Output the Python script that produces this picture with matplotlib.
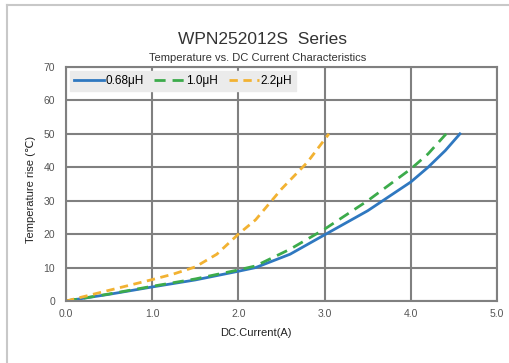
import matplotlib.pyplot as plt
from matplotlib.lines import Line2D

plt.rcParams["font.family"] = ["Liberation Sans", "DejaVu Sans"]

# values
cur_068 = [0, 0.5, 1.0, 1.5, 2.0, 2.2, 2.6, 3.0, 3.5, 4.0, 4.2, 4.4, 4.57]
rise_068 = [0, 2.0, 4.2, 6.3, 8.9, 10.0, 14.0, 19.8, 27.0, 35.6, 40.0, 45.0, 50.0]

cur_10 = [0, 0.5, 1.0, 1.5, 2.0, 2.2, 2.6, 3.0, 3.5, 4.0, 4.2, 4.41]
rise_10 = [0, 2.1, 4.4, 6.6, 9.3, 10.5, 15.5, 21.5, 30.0, 39.5, 44.0, 50.0]

cur_22 = [0, 0.5, 1.0, 1.25, 1.5, 1.75, 2.0, 2.2, 2.5, 2.8, 3.05]
rise_22 = [0, 3.2, 6.4, 8.1, 10.2, 14.0, 20.0, 24.3, 33.5, 41.5, 50.0]

x_ticks = [0, 1, 2, 3, 4, 5]
x_labels = ["0.0", "1.0", "2.0", "3.0", "4.0", "5.0"]
y_ticks = [0, 10, 20, 30, 40, 50, 60, 70]

fig = plt.figure(figsize=(5.10, 3.63), dpi=100)
fig.patch.set_facecolor("white")

# outer frame (left and top edges visible)
fy = 1 - 5 / 363
fx = 7 / 510
fig.add_artist(Line2D([fx, fx], [-0.01, fy], transform=fig.transFigure, color="#c8c8c8", lw=1.5))
fig.add_artist(Line2D([fx, 1.01], [fy, fy], transform=fig.transFigure, color="#c8c8c8", lw=1.5))

ax = fig.add_axes([66 / 510, 1 - 301 / 363, 431 / 510, 234 / 363])

ax.plot(cur_068, rise_068, color="#2f78c0", lw=2, label="0.68\u03bcH")
ax.plot(cur_10, rise_10, color="#3cab4b", lw=2, dashes=(4, 2.5), label="1.0\u03bcH")
ax.plot(cur_22, rise_22, color="#f2b232", lw=2, dashes=(3, 2), label="2.2\u03bcH")

ax.set_xlim(0, 5)
ax.set_ylim(0, 70)
ax.set_xticks(x_ticks)
ax.set_xticklabels(x_labels)
ax.set_yticks(y_ticks)
ax.grid(True, color="#808080", lw=1.5)
ax.set_axisbelow(True)
for s in ax.spines.values():
    s.set_color("#808080")
    s.set_linewidth(1.5)
ax.tick_params(length=0, labelsize=7.5, labelcolor="#555555")
ax.tick_params(axis="x", pad=6)
ax.tick_params(axis="y", pad=8)

leg = ax.legend(loc="upper left", ncol=3, fontsize=8.5, frameon=True, fancybox=False,
                handlelength=2.6, handletextpad=0.1, columnspacing=0.9,
                borderaxespad=0.3, borderpad=0.35, bbox_to_anchor=(0.0, 1.0))
leg.get_frame().set_facecolor("#ebebeb")
leg.get_frame().set_edgecolor("#ebebeb")
leg.get_frame().set_alpha(1)

fig.text(263 / 510, 1 - 40 / 363, "WPN252012S  Series", ha="center", va="center",
         fontsize=12.5, color="#333333")
fig.text(258 / 510, 1 - 58 / 363, "Temperature vs. DC Current Characteristics", ha="center",
         va="center", fontsize=8, color="#333333")
fig.text(31 / 510, 1 - 189 / 363, "Temperature rise (\u2103)", rotation=90, ha="center",
         va="center", fontsize=8, color="#222222")
fig.text(256 / 510, 1 - 333 / 363, "DC.Current(A)", ha="center", va="center",
         fontsize=8, color="#222222")

fig.savefig("out.png", dpi=100)
